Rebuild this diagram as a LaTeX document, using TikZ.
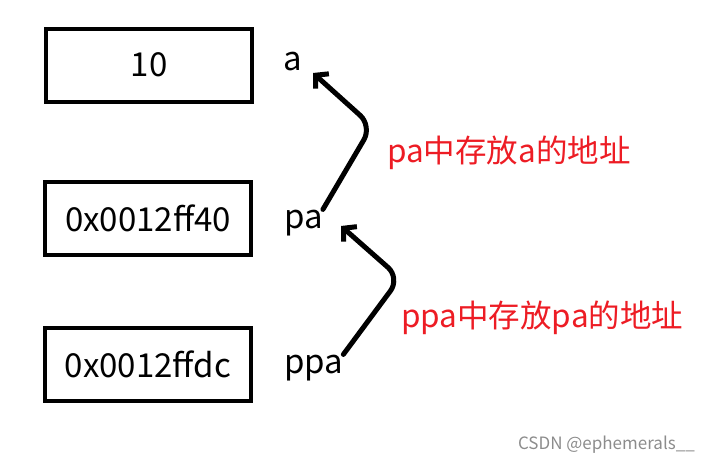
\documentclass[tikz,border=0pt]{standalone}
\usepackage{fontspec}
\setmainfont{Noto Sans CJK SC}
\usepackage{xcolor}
\usetikzlibrary{arrows.meta}
\usetikzlibrary{positioning}

\definecolor{notered}{RGB}{237,28,36}
\tikzset{
  membox/.style={draw, line width=4pt, minimum width=206pt, minimum height=73pt,
    inner sep=0pt, font=\fontsize{33}{33}\selectfont},
  varname/.style={anchor=base west, inner sep=0pt, font=\fontsize{33}{33}\selectfont},
  note/.style={anchor=base west, inner sep=0pt, text=notered, font=\fontsize{31.5}{31.5}\selectfont},
  ptr/.style={line width=5pt, line cap=round, rounded corners=16pt,
    -{Straight Barb[length=9pt,width=20pt]}},
}

\begin{document}
\begin{tikzpicture}[x=1pt, y=-1pt]
    \useasboundingbox (0,0) rectangle (710,463);
    % memory cells
    \node[membox] (val)   at (149,65)    {10};
    \node[membox] (pval)  at (148,218.5) {0x0012ff40};
    \node[membox] (ppval) at (148,364)   {0x0012ffdc};

    % variable names
    \node[varname] (a)   at (283,70)  {a};
    \node[varname] (pa)  at (284,228) {pa};
    \node[varname] (ppa) at (284,373) {ppa};

    % pointers
    \coordinate (bendA) at (372,126);
    \coordinate (tipA)  at (313,73);
    \draw[ptr] (pa.north east) -- (bendA) -- (tipA);
    \coordinate (bendPA) at (400,278);
    \coordinate (tipPA)  at (341,226);
    \draw[ptr] (ppa.north east) -- (bendPA) -- (tipPA);

    % notes
    \node[note] (noteA)  at (387,162) {pa中存放a的地址};
    \node[note] (notePA) at (401,327) {ppa中存放pa的地址};

    \node[anchor=base east, inner sep=0pt, text=black!45, font=\fontsize{17}{17}\selectfont]
      (mark) at (695,449) {CSDN @ephemerals\_\_};
\end{tikzpicture}
\end{document}
